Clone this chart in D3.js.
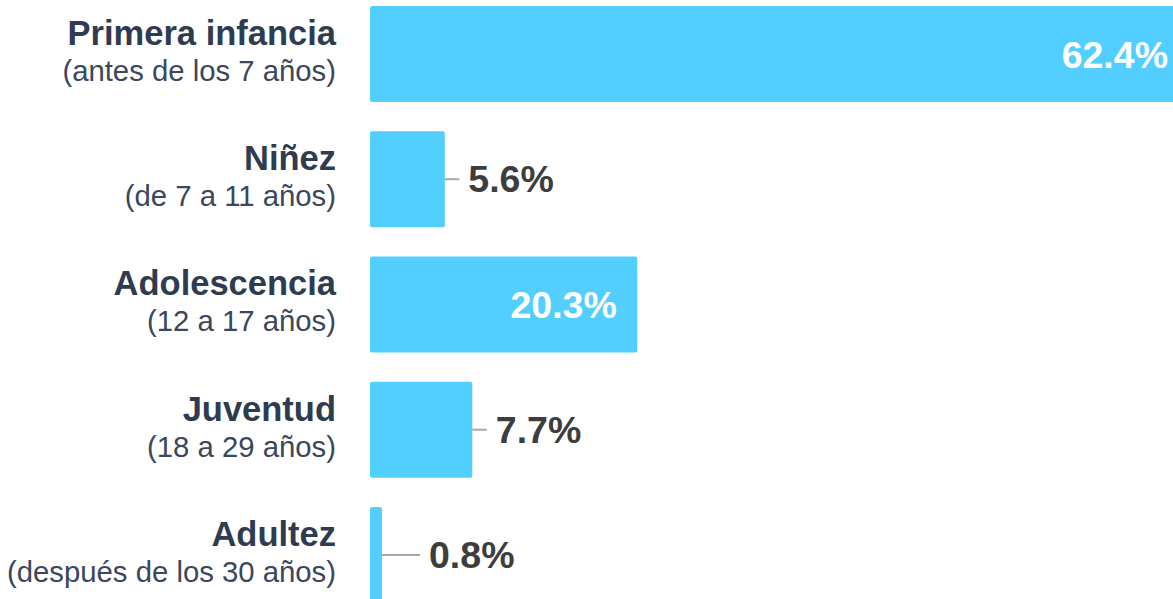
<!DOCTYPE html>
<html>
<head>
<meta charset="utf-8">
<script src="https://cdn.jsdelivr.net/npm/d3@7"></script>
<style>
  html, body { margin: 0; padding: 0; background: #fff; overflow: hidden; }
  text { font-family: "Liberation Sans", Arial, sans-serif; }
</style>
</head>
<body>
<svg class="chart"></svg>
<script>
let categories = ["Primera infancia", "Niñez", "Adolescencia", "Juventud", "Adultez"];
let subtitles = ["(antes de los 7 años)", "(de 7 a 11 años)", "(12 a 17 años)", "(18 a 29 años)", "(después de los 30 años)"];
let values = [62.4, 5.6, 20.3, 7.7, 0.8];

let w = 1173;
let h = 599;
let left = 370;

var svg = d3.select(".chart")
            .attr("width", w)
            .attr("height", h);

var xS = d3.scaleLinear()
           .domain([0, 62.4])
           .range([left, left + 817]);

// 125px per row, bars 96px tall
var yS = d3.scaleBand()
           .domain(categories)
           .range([-23.3, 632.2])
           .padding(0.2335);

var rows = categories.map((c, i) => ({cat: c, sub: subtitles[i], v: values[i]}));

var g = svg.selectAll("g.row")
           .data(rows)
           .enter().append("g")
           .attr("class", "row");

g.append("rect")
    .attr("x", xS(0))
    .attr("y", d => yS(d.cat))
    .attr("width", d => xS(d.v) - xS(0) + 1.5)
    .attr("height", yS.bandwidth())
    .attr("rx", 2)
    .attr("fill", "#53cfff");

g.append("text")
    .attr("x", 336)
    .attr("y", d => yS(d.cat) + yS.bandwidth() / 2 - 9)
    .attr("text-anchor", "end")
    .attr("font-size", "34.5px")
    .attr("font-weight", "bold")
    .attr("fill", "#2f3c50")
    .text(d => d.cat);

g.append("text")
    .attr("x", 336)
    .attr("y", d => yS(d.cat) + yS.bandwidth() / 2 + 27)
    .attr("text-anchor", "end")
    .attr("font-size", "29.3px")
    .attr("fill", "#3b475a")
    .text(d => d.sub);

var inside = d => d.v > 10;
var labelX = d => Math.max(xS(d.v) + 25, xS(0) + 59);

// big values sit inside the bar
g.filter(inside).append("text")
    .attr("x", d => xS(d.v) - 19)
    .attr("y", d => yS(d.cat) + yS.bandwidth() / 2 + 14)
    .attr("text-anchor", "end")
    .attr("font-size", "37.5px")
    .attr("font-weight", "bold")
    .attr("fill", "#ffffff")
    .text(d => d.v.toFixed(1) + "%");

// small ones get a leader line
var outside = g.filter(d => !inside(d));

outside.append("line")
    .attr("x1", d => xS(d.v) + 1.5)
    .attr("x2", d => labelX(d) - 9)
    .attr("y1", d => yS(d.cat) + yS.bandwidth() / 2)
    .attr("y2", d => yS(d.cat) + yS.bandwidth() / 2)
    .attr("stroke", "#a8a8a8")
    .attr("stroke-width", 2);

outside.append("text")
    .attr("x", labelX)
    .attr("y", d => yS(d.cat) + yS.bandwidth() / 2 + 13)
    .attr("font-size", "37.5px")
    .attr("font-weight", "bold")
    .attr("fill", "#3d3d3d")
    .text(d => d.v.toFixed(1) + "%");
</script>
</body>
</html>
